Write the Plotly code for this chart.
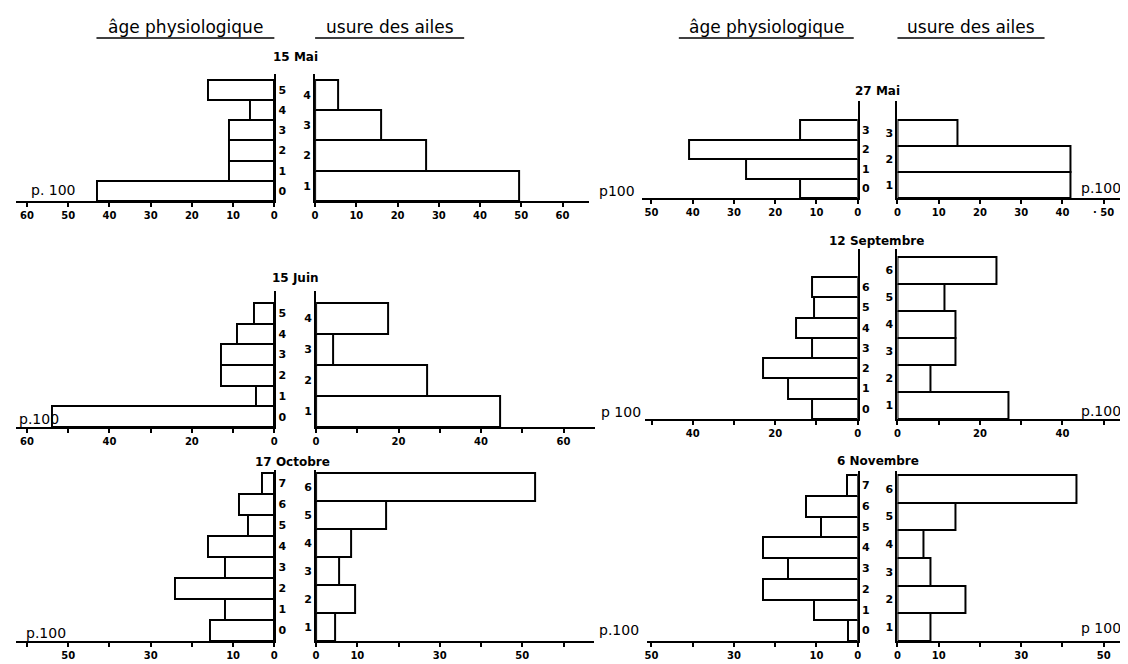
import plotly.graph_objects as go

# ---------------- data ----------------
dates = ["15 Mai", "27 Mai", "15 Juin", "12 Septembre", "17 Octobre", "6 Novembre"]

age_15mai = [43, 11, 11, 11, 6, 16]
usure_15mai = [49.5, 27, 16, 5.5]
age_27mai = [14, 27, 41, 14]
usure_27mai = [42, 42, 14.5]
age_15juin = [54, 4.5, 13, 13, 9, 5]
usure_15juin = [44.5, 27, 4, 17.5]
age_12sept = [11, 17, 23, 11, 15, 10.5, 11]
usure_12sept = [27, 8, 14, 14, 11.5, 24]
age_17oct = [15.5, 12, 24, 12, 16, 6.5, 8.5, 3]
usure_17oct = [4.5, 9.5, 5.5, 8.5, 17, 53]
age_6nov = [2.3, 10.5, 23, 17, 23, 9, 12.5, 2.5]
usure_6nov = [8, 16.5, 8, 6.25, 14, 43.3]

age_series = [age_15mai, age_27mai, age_15juin, age_12sept, age_17oct, age_6nov]
usure_series = [usure_15mai, usure_27mai, usure_15juin, usure_12sept, usure_17oct, usure_6nov]
# vertical extent (in age-class units) covered by the wing-wear classes
usure_span = [6, 4, 6, 8, 8, 8]

ticks_60 = [0, 10, 20, 30, 40, 50, 60]
ticks_50 = [0, 10, 20, 30, 40, 50]
labels_15mai = ["0", "10", "20", "30", "40", "50", "60"]
labels_27mai = ["0", "10", "20", "30", "40", "50"]
labels_27mai_r = ["0", "10", "20", "30", "40", "· 50"]
labels_15juin = ["0", "", "20", "", "40", "", "60"]
labels_12sept = ["0", "", "20", "", "40", ""]
labels_17oct = ["0", "10", "", "30", "", "50", ""]
labels_6nov = ["0", "10", "", "30", "", "50"]
tick_sets = [ticks_60, ticks_50, ticks_60, ticks_50, ticks_60, ticks_50]
label_sets_l = [labels_15mai, labels_27mai, labels_15juin, labels_12sept, labels_17oct, labels_6nov]
label_sets_r = [labels_15mai, labels_27mai_r, labels_15juin, labels_12sept, labels_17oct, labels_6nov]

header_age = "âge physiologique"
header_usure = "usure des ailes"

# ---------------- layout (pixels) ----------------
W, H = 1128, 664
SX = 4.15  # px per percent


def px(x):
    return x / W


def py(y):
    return 1 - y / H


panels = [
    dict(xs=5, xl0=265, xr0=306, xe=582, base=193, top=66, unit=20.2, tx=286, ty=49,
         pl=("p. 100", 43, 182), pr=None),
    dict(xs=635, xl0=852, xr0=892, xe=1122, base=190, top=93, unit=19.4, tx=872, ty=83,
         pl=("p100", 610, 183), pr=("p.100", 1097, 180)),
    dict(xs=5, xl0=265, xr0=307, xe=588, base=419, top=283, unit=20.7, tx=286, ty=270,
         pl=("p.100", 28, 411), pr=None),
    dict(xs=638, xl0=852, xr0=892, xe=1128, base=411, top=241, unit=20.3, tx=871, ty=233,
         pl=("p 100", 614, 404), pr=("p.100", 1097, 403)),
    dict(xs=5, xl0=265, xr0=307, xe=587, base=633, top=462, unit=21.0, tx=283, ty=454,
         pl=("p.100", 35, 625), pr=None),
    dict(xs=640, xl0=852, xr0=892, xe=1128, base=633, top=463, unit=20.75, tx=872, ty=453,
         pl=("p.100", 612, 622), pr=("p 100", 1097, 620)),
]

FONT = "DejaVu Sans"
tickfont = dict(family=FONT, size=10, color="black", weight="bold")
catfont = dict(family=FONT, size=11, color="black", weight="bold")
bar_style = dict(color="white", line=dict(color="black", width=2))

fig = go.Figure()
layout = dict(
    width=W, height=H, margin=dict(l=0, r=0, t=0, b=0),
    paper_bgcolor="white", plot_bgcolor="rgba(0,0,0,0)",
    showlegend=False, bargap=0,
)
annotations = []
shapes = []


def note(text, x, y, size, bold=False):
    annotations.append(dict(text=text, x=px(x), y=py(y), xref="paper", yref="paper",
                            xanchor="center", yanchor="middle", showarrow=False,
                            font=dict(family=FONT, size=size, color="black",
                                      weight="bold" if bold else "normal")))


for i, p in enumerate(panels):
    nl, nr = 2 * i + 1, 2 * i + 2
    ages = age_series[i]
    usures = usure_series[i]
    ymax = (p["base"] - p["top"]) / p["unit"]
    age_pos = [k + 0.5 for k in range(len(ages))]
    h = usure_span[i] / len(usures)
    usure_pos = [(k + 0.5) * h for k in range(len(usures))]

    fig.add_trace(go.Bar(
        x=ages, y=age_pos, width=[1] * len(ages), orientation="h",
        marker=bar_style, xaxis=f"x{nl}", yaxis=f"y{nl}", hoverinfo="x+y",
    ))
    fig.add_trace(go.Bar(
        x=usures, y=usure_pos, width=[h] * len(usures), orientation="h",
        marker=bar_style, xaxis=f"x{nr}", yaxis=f"y{nr}", hoverinfo="x+y",
    ))

    common_x = dict(showline=True, linecolor="black", linewidth=2, ticks="outside",
                    ticklen=4, tickwidth=1.5, tickcolor="black", showgrid=False,
                    zeroline=False, tickfont=tickfont, tickvals=tick_sets[i],
                    fixedrange=True)
    common_y = dict(showline=True, linecolor="black", linewidth=2, ticks="",
                    showgrid=False, zeroline=False, tickfont=catfont,
                    range=[0, ymax], domain=[py(p["base"]), py(p["top"])], fixedrange=True)

    layout[f"xaxis{nl}"] = dict(common_x, domain=[px(p["xs"]), px(p["xl0"])],
                                range=[(p["xl0"] - p["xs"]) / SX, 0], anchor=f"y{nl}",
                                ticktext=label_sets_l[i])
    layout[f"xaxis{nr}"] = dict(common_x, domain=[px(p["xr0"]), px(p["xe"])],
                                range=[0, (p["xe"] - p["xr0"]) / SX], anchor=f"y{nr}",
                                ticktext=label_sets_r[i])
    layout[f"yaxis{nl}"] = dict(common_y, anchor=f"x{nl}", side="right",
                                tickvals=age_pos, ticktext=[str(k) for k in range(len(ages))])
    layout[f"yaxis{nr}"] = dict(common_y, anchor=f"x{nr}", side="left",
                                tickvals=usure_pos, ticktext=[str(k + 1) for k in range(len(usures))])

    note(dates[i], p["tx"], p["ty"], 12, bold=True)
    for lab in (p["pl"], p["pr"]):
        if lab:
            note(lab[0], lab[1], lab[2], 14)

# headers
for text, cx, x0, x1 in [(header_age, 176, 86, 265), (header_usure, 381, 306, 456),
                         (header_age, 760, 672, 848), (header_usure, 966, 892, 1040)]:
    note(text, cx, 19, 17)
    shapes.append(dict(type="line", xref="paper", yref="paper", x0=px(x0), x1=px(x1),
                       y0=py(30), y1=py(30), line=dict(color="black", width=1.5)))

layout["annotations"] = annotations
layout["shapes"] = shapes
fig.update_layout(**layout)
fig.write_html("out.html")
